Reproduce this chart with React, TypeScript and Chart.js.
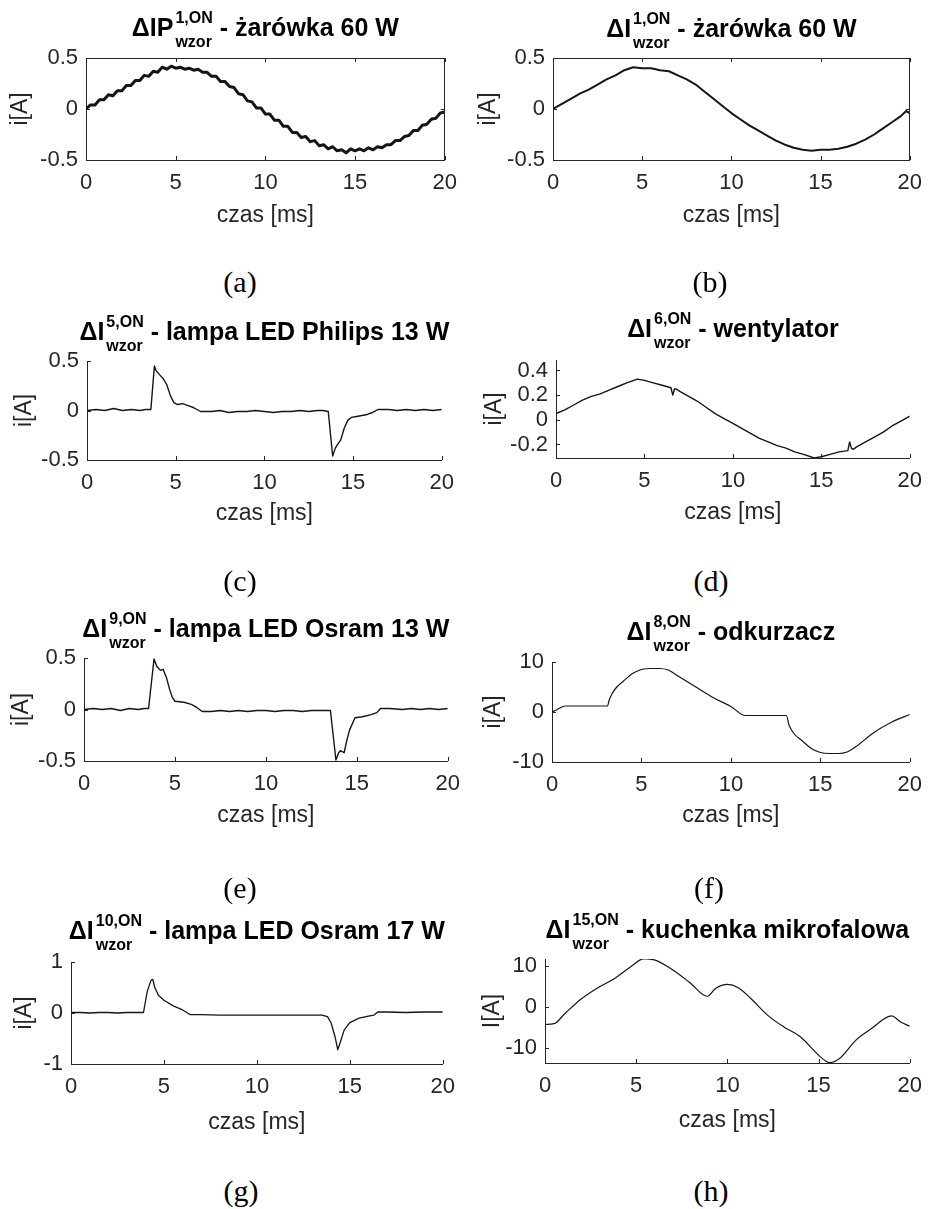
import React, { useEffect, useRef } from "react";
import { Chart, registerables } from "chart.js";

Chart.register(...registerables);

const FAM = '"Liberation Sans", Arial, Helvetica, sans-serif';
const SERIF = '"Liberation Serif", "Times New Roman", serif';
const AXIS_COLOR = "#262626";
const LINE_COLOR = "#151515";

// shared x-axis ticks [ms]
const X_TICKS = [0, 5, 10, 15, 20];
const X_LABEL = "czas [ms]";

// (a) ΔIP 1,ON – żarówka 60 W (noisy)
const TIME_A = [0, 0.25, 0.5, 0.75, 1, 1.25, 1.5, 1.75, 2, 2.25, 2.5, 2.75, 3, 3.25, 3.5, 3.75, 4, 4.25, 4.5, 4.75, 5, 5.25, 5.5, 5.75, 6, 6.25, 6.5, 6.75, 7, 7.25, 7.5, 7.75, 8, 8.25, 8.5, 8.75, 9, 9.25, 9.5, 9.75, 10, 10.25, 10.5, 10.75, 11, 11.25, 11.5, 11.75, 12, 12.25, 12.5, 12.75, 13, 13.25, 13.5, 13.75, 14, 14.25, 14.5, 14.75, 15, 15.25, 15.5, 15.75, 16, 16.25, 16.5, 16.75, 17, 17.25, 17.5, 17.75, 18, 18.25, 18.5, 18.75, 19, 19.25, 19.5, 19.75, 20];
const CURRENT_A = [0.0, 0.04, 0.04, 0.09, 0.09, 0.14, 0.13, 0.18, 0.18, 0.23, 0.23, 0.28, 0.28, 0.33, 0.32, 0.37, 0.36, 0.41, 0.39, 0.42, 0.4, 0.41, 0.39, 0.4, 0.38, 0.39, 0.36, 0.36, 0.32, 0.32, 0.27, 0.27, 0.22, 0.21, 0.15, 0.14, 0.08, 0.07, 0.01, 0.01, -0.05, -0.05, -0.11, -0.11, -0.17, -0.17, -0.23, -0.23, -0.28, -0.27, -0.32, -0.31, -0.36, -0.35, -0.39, -0.37, -0.41, -0.4, -0.43, -0.39, -0.41, -0.39, -0.41, -0.38, -0.4, -0.37, -0.38, -0.35, -0.35, -0.31, -0.31, -0.27, -0.26, -0.21, -0.21, -0.16, -0.15, -0.1, -0.09, -0.04, -0.03];

// (b) ΔI 1,ON – żarówka 60 W
const TIME_B = [0, 0.5, 1, 1.5, 2, 2.5, 3, 3.5, 4, 4.5, 5, 5.5, 6, 6.5, 7, 7.5, 8, 8.5, 9, 9.5, 10, 10.5, 11, 11.5, 12, 12.5, 13, 13.5, 14, 14.5, 15, 15.5, 16, 16.5, 17, 17.5, 18, 18.5, 19, 19.5, 19.8, 20];
const CURRENT_B = [0.0, 0.05, 0.1, 0.15, 0.19, 0.24, 0.29, 0.33, 0.38, 0.41, 0.4, 0.4, 0.38, 0.37, 0.33, 0.29, 0.24, 0.17, 0.1, 0.03, -0.04, -0.1, -0.16, -0.21, -0.26, -0.31, -0.35, -0.38, -0.4, -0.41, -0.4, -0.4, -0.39, -0.37, -0.34, -0.3, -0.25, -0.19, -0.13, -0.07, -0.02, -0.04];

// (c) ΔI 5,ON – lampa LED Philips 13 W
const TIME_C = [0, 0.5, 1, 1.5, 2, 2.5, 3, 3.3, 3.6, 3.8, 3.9, 4.1, 4.3, 4.5, 4.7, 4.9, 5.1, 5.4, 5.7, 6.0, 6.2, 6.4, 7, 7.5, 8, 8.5, 9, 9.5, 10, 10.5, 11, 11.5, 12, 12.5, 13, 13.3, 13.6, 13.85, 14.0, 14.1, 14.3, 14.5, 14.7, 14.9, 15.2, 15.5, 15.8, 16.1, 16.4, 17, 17.5, 18, 18.5, 19, 19.5, 20];
const CURRENT_C = [0.0, 0.01, 0.0, 0.02, 0.0, 0.01, 0.0, 0.01, 0.01, 0.45, 0.4, 0.36, 0.32, 0.26, 0.15, 0.08, 0.06, 0.07, 0.05, 0.03, 0.01, -0.01, -0.01, 0.0, -0.02, -0.01, -0.01, 0.0, -0.01, -0.02, -0.01, -0.01, 0.0, -0.01, 0.0, 0.0, -0.01, -0.46, -0.38, -0.35, -0.3, -0.18, -0.1, -0.07, -0.06, -0.05, -0.04, -0.02, 0.01, 0.01, 0.0, 0.01, 0.0, 0.01, 0.0, 0.01];

// (d) ΔI 6,ON – wentylator
const TIME_D = [0, 0.5, 1, 1.5, 2, 2.5, 3, 3.5, 4, 4.6, 5, 5.5, 6, 6.5, 6.6, 6.7, 6.8, 7, 7.5, 8, 8.5, 9, 9.5, 10, 10.5, 11, 11.5, 12, 12.5, 13, 13.5, 14, 14.6, 15, 15.5, 16, 16.5, 16.6, 16.7, 16.8, 17, 17.5, 18, 18.5, 19, 19.5, 20];
const CURRENT_D = [0.05, 0.08, 0.12, 0.16, 0.19, 0.21, 0.24, 0.27, 0.3, 0.33, 0.32, 0.3, 0.28, 0.26, 0.2, 0.25, 0.25, 0.23, 0.19, 0.15, 0.1, 0.05, 0.01, -0.03, -0.07, -0.11, -0.15, -0.18, -0.21, -0.23, -0.26, -0.28, -0.31, -0.3, -0.28, -0.26, -0.25, -0.18, -0.23, -0.24, -0.22, -0.18, -0.14, -0.1, -0.05, -0.01, 0.03];

// (e) ΔI 9,ON – lampa LED Osram 13 W
const TIME_E = [0, 0.5, 1, 1.5, 2, 2.5, 3, 3.3, 3.55, 3.85, 4.0, 4.2, 4.35, 4.55, 4.7, 4.85, 5.0, 5.5, 5.9, 6.2, 6.5, 7, 7.5, 8, 8.5, 9, 9.5, 10, 10.5, 11, 11.5, 12, 12.5, 13, 13.55, 13.85, 14.0, 14.1, 14.3, 14.45, 14.6, 14.9, 15.3, 15.8, 16.1, 16.3, 16.8, 17.5, 18, 18.5, 19, 19.5, 20];
const CURRENT_E = [0.0, 0.01, 0.0, 0.01, -0.01, 0.01, 0.0, 0.01, 0.01, 0.49, 0.42, 0.38, 0.39, 0.3, 0.2, 0.12, 0.08, 0.07, 0.05, 0.02, -0.02, -0.02, -0.01, -0.02, -0.01, -0.02, -0.01, -0.01, -0.02, -0.01, -0.01, -0.02, -0.01, -0.01, -0.01, -0.49, -0.42, -0.4, -0.42, -0.3, -0.2, -0.08, -0.07, -0.05, -0.03, 0.01, 0.01, 0.0, 0.01, 0.0, 0.01, 0.0, 0.01];

// (f) ΔI 8,ON – odkurzacz
const TIME_F = [0, 0.3, 0.74, 1.5, 2, 2.5, 3.1, 3.2, 3.35, 3.6, 4, 4.5, 5, 5.5, 6, 6.5, 7, 8, 9, 10, 10.8, 11.5, 12, 12.5, 13.1, 13.25, 13.5, 14, 14.5, 15, 15.5, 16, 16.5, 17, 18, 19, 20];
const CURRENT_F = [0, 0.5, 1.2, 1.2, 1.2, 1.2, 1.2, 2.4, 3.6, 4.9, 6.2, 7.7, 8.5, 8.7, 8.7, 8.4, 7.3, 5.1, 2.9, 1.1, -0.7, -0.7, -0.7, -0.7, -0.7, -2.6, -4.2, -5.8, -7.3, -8.1, -8.3, -8.3, -8.0, -6.9, -4.1, -2.0, -0.5];

// (g) ΔI 10,ON – lampa LED Osram 17 W
const TIME_G = [0, 0.5, 1, 1.5, 2, 2.5, 3, 3.5, 3.9, 4.1, 4.3, 4.4, 4.5, 4.7, 5.0, 5.5, 6.0, 6.4, 7, 8, 9, 10, 11, 12, 13, 13.5, 13.8, 14.0, 14.2, 14.35, 14.5, 14.7, 15, 15.5, 16, 16.3, 16.5, 17, 18, 19, 20];
const CURRENT_G = [0.01, 0.01, 0.0, 0.01, 0.01, 0.0, 0.01, 0.01, 0.01, 0.42, 0.64, 0.66, 0.51, 0.35, 0.25, 0.14, 0.06, -0.03, -0.03, -0.04, -0.04, -0.04, -0.04, -0.04, -0.04, -0.04, -0.07, -0.2, -0.46, -0.72, -0.56, -0.33, -0.19, -0.1, -0.06, -0.04, 0.02, 0.02, 0.01, 0.02, 0.02];

// (h) ΔI 15,ON – kuchenka mikrofalowa
const TIME_H = [0, 0.5, 1.1, 2, 2.9, 3.8, 4.7, 5.4, 6, 6.85, 7.9, 8.9, 9.35, 10, 10.6, 11.3, 12.2, 13.1, 14, 15.1, 15.6, 16.15, 17.05, 17.9, 19, 19.5, 20];
const CURRENT_H = [-4.3, -4.1, -1.6, 2.0, 4.7, 6.9, 9.8, 11.8, 11.5, 9.5, 6.1, 2.6, 4.5, 5.5, 4.7, 2.0, -2.0, -4.9, -7.3, -12.2, -13.6, -12.6, -8.1, -5.3, -2.2, -3.7, -4.7];

// y-axis ticks per panel
const Y_TICKS_HALF = [-0.5, 0, 0.5];
const Y_TICKS_D = [-0.2, 0, 0.2, 0.4];
const Y_TICKS_TEN = [-10, 0, 10];
const Y_TICKS_ONE = [-1, 0, 1];

type Panel = {
  key: string;
  time: number[];
  values: number[];
  yMin: number;
  yMax: number;
  yTicks: number[];
  yLabel: string;
  lineWidth: number;
  smooth: boolean;
  box: boolean;
  rect: [number, number, number, number]; // l, t, r, b
  yTitleCx: number;
  xTitleCy: number;
  titleBase: number;
  tMain: string;
  tSup: string;
  tRest: string;
  caption: string;
  capCx: number;
  capCy: number;
};

const PANELS: Panel[] = [
  { key: "a", time: TIME_A, values: CURRENT_A, yMin: -0.5, yMax: 0.5, yTicks: Y_TICKS_HALF, yLabel: "i[A]", lineWidth: 3, smooth: false, box: true, rect: [86, 58, 447, 160], yTitleCx: 21, xTitleCy: 215.5, titleBase: 36, tMain: "ΔIP", tSup: "1,ON", tRest: " - żarówka 60 W", caption: "(a)", capCx: 240, capCy: 282 },
  { key: "b", time: TIME_B, values: CURRENT_B, yMin: -0.5, yMax: 0.5, yTicks: Y_TICKS_HALF, yLabel: "i[A]", lineWidth: 2, smooth: false, box: true, rect: [553, 58, 918, 160], yTitleCx: 489, xTitleCy: 215, titleBase: 36.5, tMain: "ΔI", tSup: "1,ON", tRest: " - żarówka 60 W", caption: "(b)", capCx: 710, capCy: 282 },
  { key: "c", time: TIME_C, values: CURRENT_C, yMin: -0.5, yMax: 0.5, yTicks: Y_TICKS_HALF, yLabel: "i[A]", lineWidth: 1.4, smooth: false, box: false, rect: [87, 361, 444, 460], yTitleCx: 25, xTitleCy: 513, titleBase: 340, tMain: "ΔI", tSup: "5,ON", tRest: " - lampa LED Philips 13 W", caption: "(c)", capCx: 240, capCy: 581 },
  { key: "d", time: TIME_D, values: CURRENT_D, yMin: -0.31, yMax: 0.485, yTicks: Y_TICKS_D, yLabel: "i[A]", lineWidth: 1.4, smooth: false, box: false, rect: [556, 360, 913, 458], yTitleCx: 495, xTitleCy: 512, titleBase: 337, tMain: "ΔI", tSup: "6,ON", tRest: " - wentylator", caption: "(d)", capCx: 711, capCy: 581 },
  { key: "e", time: TIME_E, values: CURRENT_E, yMin: -0.5, yMax: 0.5, yTicks: Y_TICKS_HALF, yLabel: "i[A]", lineWidth: 1.4, smooth: false, box: false, rect: [84, 658, 450, 761], yTitleCx: 22, xTitleCy: 815, titleBase: 637, tMain: "ΔI", tSup: "9,ON", tRest: " - lampa LED Osram 13 W", caption: "(e)", capCx: 240, capCy: 888 },
  { key: "f", time: TIME_F, values: CURRENT_F, yMin: -10, yMax: 10, yTicks: Y_TICKS_TEN, yLabel: "i[A]", lineWidth: 1.2, smooth: true, box: false, rect: [552, 662, 913, 762], yTitleCx: 494, xTitleCy: 815, titleBase: 640, tMain: "ΔI", tSup: "8,ON", tRest: " - odkurzacz", caption: "(f)", capCx: 709, capCy: 888 },
  { key: "g", time: TIME_G, values: CURRENT_G, yMin: -1, yMax: 1, yTicks: Y_TICKS_ONE, yLabel: "i[A]", lineWidth: 1.3, smooth: false, box: false, rect: [71, 962, 445, 1064], yTitleCx: 25, xTitleCy: 1122, titleBase: 939, tMain: "ΔI", tSup: "10,ON", tRest: " - lampa LED Osram 17 W", caption: "(g)", capCx: 241, capCy: 1191 },
  { key: "h", time: TIME_H, values: CURRENT_H, yMin: -13.7, yMax: 11.7, yTicks: Y_TICKS_TEN, yLabel: "I[A]", lineWidth: 1.2, smooth: true, box: false, rect: [545, 959, 918, 1063], yTitleCx: 493, xTitleCy: 1120, titleBase: 938, tMain: "ΔI", tSup: "15,ON", tRest: " - kuchenka mikrofalowa", caption: "(h)", capCx: 711, capCy: 1191 },
];

const TICK_FONT = 22;
const AXIS_TITLE_FONT = 23;
const TITLE_FONT = 25;
const SMALL_FONT = 16;

function geometry(p: Panel) {
  const [l, t, r, b] = p.rect;
  const half = (AXIS_TITLE_FONT * 1.2) / 2;
  const left = Math.round(p.yTitleCx - half);
  const top = Math.round(p.titleBase - 40);
  const padRight = Math.min(20, 932 - r);
  const w = r + padRight - left;
  const bottom = Math.round(p.xTitleCy + half);
  const h = bottom - top;
  const yWidth = l - left;
  const padTop = t - top;
  const xHeight = h - padTop - (b - t);
  return { left, top, w, h, yWidth, padTop, padRight, xHeight };
}

function PanelChart({ p }: { p: Panel }) {
  const ref = useRef<HTMLCanvasElement | null>(null);
  const g = geometry(p);

  useEffect(() => {
    if (!ref.current) return;
    const framePlugin = {
      id: "matlabFrame",
      afterDraw(chart: any) {
        const { ctx, chartArea } = chart;
        const { left, right, top, bottom } = chartArea;
        const xs = chart.scales.x;
        const ys = chart.scales.y;
        ctx.save();
        ctx.strokeStyle = AXIS_COLOR;
        ctx.lineWidth = 1;
        ctx.beginPath();
        const tl = 4;
        for (const v of X_TICKS) {
          const px = Math.round(xs.getPixelForValue(v)) + 0.5;
          ctx.moveTo(px, bottom);
          ctx.lineTo(px, bottom - tl);
          if (p.box) {
            ctx.moveTo(px, top);
            ctx.lineTo(px, top + tl);
          }
        }
        for (const v of p.yTicks) {
          const py = Math.round(ys.getPixelForValue(v)) + 0.5;
          ctx.moveTo(left, py);
          ctx.lineTo(left + tl, py);
          if (p.box) {
            ctx.moveTo(right, py);
            ctx.lineTo(right - tl, py);
          }
        }
        if (p.box) {
          ctx.moveTo(left, Math.round(top) + 0.5);
          ctx.lineTo(right, Math.round(top) + 0.5);
          ctx.moveTo(Math.round(right) - 0.5, top);
          ctx.lineTo(Math.round(right) - 0.5, bottom);
        }
        ctx.stroke();

        // title with stacked super/subscript (MATLAB TeX style)
        const fMain = `bold ${TITLE_FONT}px ${FAM}`;
        const fSmall = `bold ${SMALL_FONT}px ${FAM}`;
        ctx.font = fMain;
        const wMain = ctx.measureText(p.tMain).width;
        const wRest = ctx.measureText(p.tRest).width;
        ctx.font = fSmall;
        const wSup = ctx.measureText(p.tSup).width;
        const wSub = ctx.measureText("wzor").width;
        const gap = 2;
        const wStack = Math.max(wSup, wSub) + gap;
        const total = wMain + wStack + wRest;
        const cx = (left + right) / 2;
        const x0 = cx - total / 2;
        const by = p.titleBase - g.top;
        ctx.fillStyle = "#000";
        ctx.textAlign = "left";
        ctx.textBaseline = "alphabetic";
        ctx.font = fMain;
        ctx.fillText(p.tMain, x0, by);
        ctx.font = fSmall;
        ctx.fillText(p.tSup, x0 + wMain + gap, by - 12.7);
        ctx.fillText("wzor", x0 + wMain + gap, by + 11.3);
        ctx.font = fMain;
        ctx.fillText(p.tRest, x0 + wMain + wStack, by);
        ctx.restore();
      },
    };

    const chart = new Chart(ref.current, {
      type: "line",
      data: {
        datasets: [
          {
            data: p.time.map((x, i) => ({ x, y: p.values[i] })),
            borderColor: LINE_COLOR,
            borderWidth: p.lineWidth,
            pointRadius: 0,
            tension: 0,
            cubicInterpolationMode: p.smooth ? "monotone" : "default",
            borderJoinStyle: "round",
            fill: false,
          },
        ],
      },
      options: {
        animation: false,
        responsive: false,
        maintainAspectRatio: false,
        events: [],
        layout: { padding: { top: g.padTop, right: g.padRight, left: 0, bottom: 0 } },
        plugins: {
          legend: { display: false },
          tooltip: { enabled: false },
          title: { display: false },
        },
        scales: {
          x: {
            type: "linear",
            min: 0,
            max: 20,
            afterBuildTicks: (s: any) => {
              s.ticks = X_TICKS.map((v) => ({ value: v }));
            },
            afterFit: (s: any) => {
              s.height = g.xHeight;
            },
            grid: { display: false, drawTicks: false },
            border: { display: true, color: AXIS_COLOR, width: 1 },
            ticks: {
              color: AXIS_COLOR,
              font: { family: FAM, size: TICK_FONT },
              padding: 10,
              maxRotation: 0,
              autoSkip: false,
              callback: (v: any) => String(v),
            },
            title: {
              display: true,
              text: X_LABEL,
              color: AXIS_COLOR,
              font: { family: FAM, size: AXIS_TITLE_FONT },
              padding: 0,
            },
          },
          y: {
            type: "linear",
            min: p.yMin,
            max: p.yMax,
            afterBuildTicks: (s: any) => {
              s.ticks = p.yTicks.map((v) => ({ value: v }));
            },
            afterFit: (s: any) => {
              s.width = g.yWidth;
            },
            grid: { display: false, drawTicks: false },
            border: { display: true, color: AXIS_COLOR, width: 1 },
            ticks: {
              color: AXIS_COLOR,
              font: { family: FAM, size: TICK_FONT },
              padding: 8,
              autoSkip: false,
              callback: (v: any) => String(v),
            },
            title: {
              display: true,
              text: p.yLabel,
              color: AXIS_COLOR,
              font: { family: FAM, size: AXIS_TITLE_FONT },
              padding: 0,
            },
          },
        },
      },
      plugins: [framePlugin],
    } as any);
    return () => chart.destroy();
  }, []);

  return (
    <canvas
      ref={ref}
      width={g.w}
      height={g.h}
      style={{ position: "absolute", left: g.left, top: g.top, width: g.w, height: g.h }}
    />
  );
}

export default function App() {
  return (
    <div
      style={{
        position: "absolute",
        left: 0,
        top: 0,
        width: 932,
        height: 1209,
        overflow: "hidden",
        background: "#fff",
      }}
    >
      {PANELS.map((p) => (
        <PanelChart key={p.key} p={p} />
      ))}
      {PANELS.map((p) => (
        <div
          key={"cap" + p.key}
          style={{
            position: "absolute",
            left: p.capCx - 50,
            width: 100,
            top: p.capCy - 18,
            height: 36,
            lineHeight: "36px",
            textAlign: "center",
            fontFamily: SERIF,
            fontSize: 30,
            color: "#000",
          }}
        >
          {p.caption}
        </div>
      ))}
    </div>
  );
}
